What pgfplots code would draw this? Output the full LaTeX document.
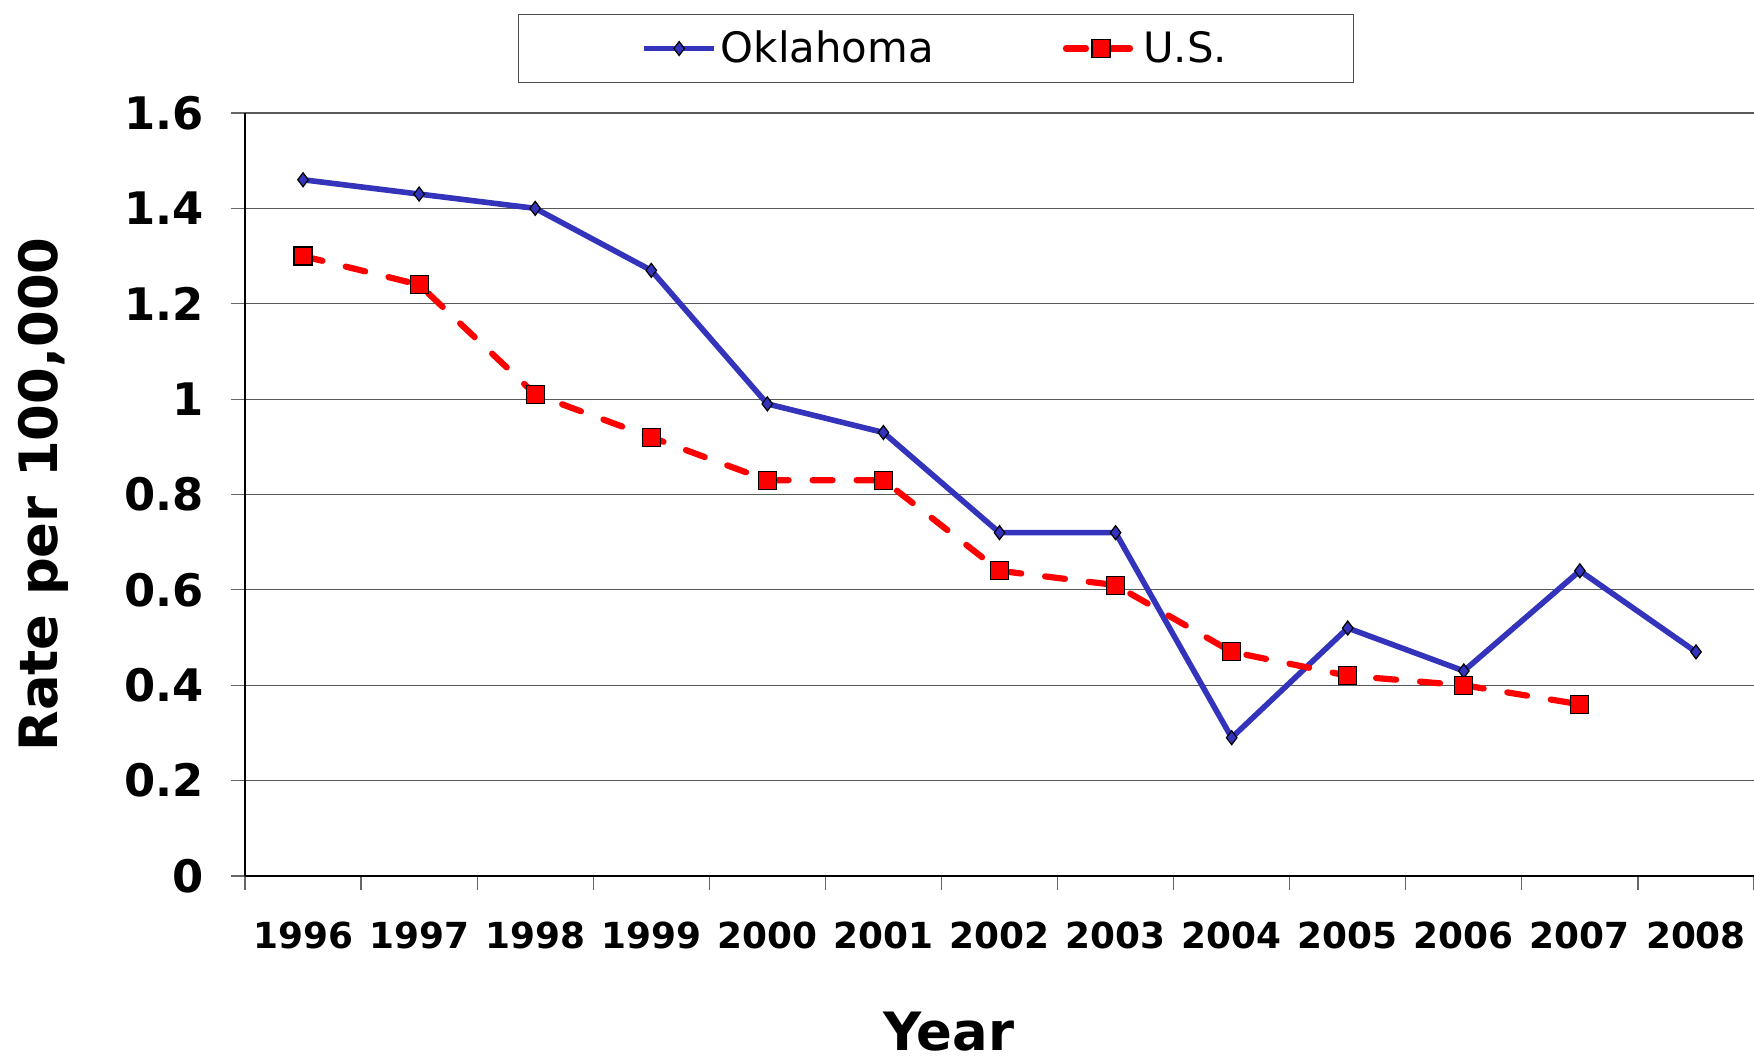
\documentclass[border=0pt]{standalone}
\usepackage{fontspec}
\setmainfont{DejaVu Sans}
\usepackage{pgfplots}
\pgfplotsset{compat=1.18}
\definecolor{okblue}{RGB}{51,51,187}
\begin{document}
\begin{tikzpicture}
\begin{axis}[name=ax, scale only axis, width=754.5bp, height=381.5bp,
  xmin=-0.5, xmax=12.5, ymin=0, ymax=1.6,
  axis x line*=bottom, axis y line*=left,
  axis line style={black, line width=0.7bp},
  xtick={-0.5,0.5,1.5,2.5,3.5,4.5,5.5,6.5,7.5,8.5,9.5,10.5,11.5,12.5},
  x tick label as interval,
  xticklabels={1996,1997,1998,1999,2000,2001,2002,2003,2004,2005,2006,2007,2008},
  ytick={0,0.2,0.4,0.6,0.8,1,1.2,1.4,1.6},
  yticklabels={0,0.2,0.4,0.6,0.8,1,1.2,1.4,1.6},
  tick align=outside, major tick length=7bp,
  tick style={draw=black!60, line width=0.6bp},
  ymajorgrids, grid style={black!65, line width=0.6bp},
  xticklabel style={font=\fontsize{18}{20}\selectfont\bfseries, yshift=-12.3bp},
  yticklabel style={font=\fontsize{22.5}{24}\selectfont\bfseries, xshift=-10bp},
  xlabel={Year}, ylabel={Rate per 100,000},
  label style={font=\fontsize{26.5}{30}\selectfont\bfseries},
  xlabel style={at={(axis description cs:0.4665,0)}, yshift=-78bp, anchor=center, inner sep=0pt},
  ylabel style={at={(axis description cs:-0.1336,0.5)}, anchor=center},
  legend columns=2,
  legend style={at={(axis description cs:0.458,1.0845)}, anchor=center,
    draw=black!70, line width=0.5bp, inner xsep=61.4bp, inner ysep=6.4bp,
    font=\fontsize{21}{24}\selectfont,
    /tikz/every even column/.append style={column sep=62.5bp}},
  legend cell align=left,
  legend image code/.code={\draw[mark repeat=2,mark phase=2,#1] plot coordinates {(0bp,0bp)(17.5bp,0bp)(35bp,0bp)};},
]
\addplot[color=okblue, line width=2.8bp, mark=diamond*, mark size=3.5bp,
  mark options={fill=okblue, draw=black, line width=0.6bp, solid}]
  coordinates {(0,1.46)(1,1.43)(2,1.40)(3,1.27)(4,0.99)(5,0.93)(6,0.72)(7,0.72)(8,0.29)(9,0.52)(10,0.43)(11,0.64)(12,0.47)};
\addlegendentry{Oklahoma}
\addplot[color=red, line width=3.1bp, dash pattern=on 10bp off 12bp, line cap=round, mark=square*, mark size=4.5bp,
  mark options={fill=red, draw=black, line width=0.6bp, solid}]
  coordinates {(0,1.30)(1,1.24)(2,1.01)(3,0.92)(4,0.83)(5,0.83)(6,0.64)(7,0.61)(8,0.47)(9,0.42)(10,0.40)(11,0.36)};
\addlegendentry{U.S.}
\end{axis}
\pgfresetboundingbox
\path ([xshift=-122.5bp,yshift=-92.5bp]ax.south west) rectangle ([yshift=56.5bp]ax.north east);
\end{tikzpicture}
\end{document}
